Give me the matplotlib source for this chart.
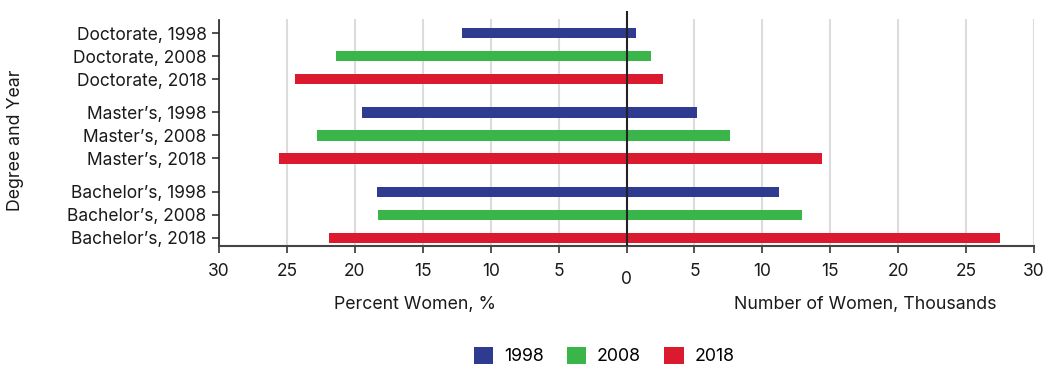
import matplotlib
matplotlib.use("Agg")
import matplotlib.pyplot as plt
from matplotlib.patches import Patch
import matplotlib.transforms as mtransforms

plt.rcParams["font.family"] = ["Inter", "DejaVu Sans"]

categories = ["Doctorate, 1998", "Doctorate, 2008", "Doctorate, 2018",
              "Master\u2019s, 1998", "Master\u2019s, 2008", "Master\u2019s, 2018",
              "Bachelor\u2019s, 1998", "Bachelor\u2019s, 2008", "Bachelor\u2019s, 2018"]
years = ["1998", "2008", "2018", "1998", "2008", "2018", "1998", "2008", "2018"]
# left side: percent women (%), right side: number of women (thousands)
percent_women = [12.1, 21.4, 24.4, 19.5, 22.8, 25.6, 18.4, 18.3, 21.9]
number_women = [0.7, 1.8, 2.7, 5.2, 7.6, 14.4, 11.2, 12.9, 27.5]
tick_vals = [-30, -25, -20, -15, -10, -5, 0, 5, 10, 15, 20, 25, 30]
tick_labels = ["30", "25", "20", "15", "10", "5", "0", "5", "10", "15", "20", "25", "30"]

colors = {"1998": "#2E3B91", "2008": "#3AB54A", "2018": "#DC1A2F"}
ypos = [0, 1, 2, 3.45, 4.45, 5.45, 6.9, 7.9, 8.9]

W, H = 1045, 367
fig = plt.figure(figsize=(W / 100, H / 100), dpi=100)
ax = fig.add_axes([219 / W, 1 - 246 / H, 815 / W, 235 / H])

for y, p, n, yr in zip(ypos, percent_women, number_women, years):
    ax.barh(y, n + p, left=-p, height=0.45, color=colors[yr], zorder=3)

ax.set_xlim(-30, 30)
ax.set_ylim(9.26, -0.957)

for v in tick_vals:
    if v == 0:
        continue
    ax.plot([v, v], [9.26, -0.565], color="#dcdcdc", lw=1.5, zorder=1)
ax.axvline(0, color="#222222", lw=1.5, zorder=4)

ax.set_yticks(ypos)
ax.set_yticklabels(categories, fontsize=12.5, color="#1a1a1a")
ax.set_xticks(tick_vals)
ax.set_xticklabels(tick_labels, fontsize=12.5, color="#1a1a1a")
ax.tick_params(axis="both", length=5, width=1.2, color="#333333", direction="out")
ax.tick_params(axis="x", pad=7)
ax.tick_params(axis="y", pad=4)

# drop the "0" label a bit lower
for lbl in ax.get_xticklabels():
    if lbl.get_text() == "0":
        lbl.set_transform(lbl.get_transform() +
                          mtransforms.ScaledTranslation(0, -6 / 72, fig.dpi_scale_trans))

for s in ["top", "right"]:
    ax.spines[s].set_visible(False)
ax.spines["left"].set_bounds(9.26, -0.565)
ax.spines["left"].set_color("#222222")
ax.spines["bottom"].set_color("#444444")
ax.spines["left"].set_linewidth(1.2)
ax.spines["bottom"].set_linewidth(1.5)

fig.text(16 / W, 1 - 140 / H, "Degree and Year", rotation=90, ha="center", va="center",
         fontsize=12.8, color="#1a1a1a")

fig.text(415 / W, 1 - 304 / H, "Percent Women, %", ha="center", va="center",
         fontsize=12.8, color="#1a1a1a")
fig.text(865 / W, 1 - 304 / H, "Number of Women, Thousands", ha="center", va="center",
         fontsize=12.8, color="#1a1a1a")

handles = [Patch(facecolor=colors[y], label=y) for y in ["1998", "2008", "2018"]]
fig.legend(handles=handles, loc="center", bbox_to_anchor=(604 / W, 1 - 356 / H),
           ncol=3, frameon=False, fontsize=12.8, handlelength=1.1, handleheight=1.1,
           columnspacing=1.3, handletextpad=0.6)

fig.savefig("out.png", dpi=100)
